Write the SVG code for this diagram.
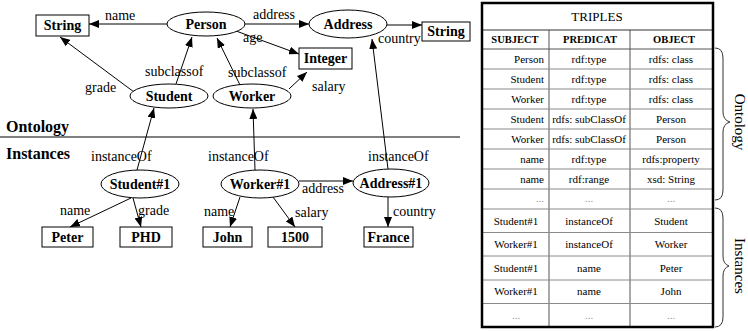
<svg xmlns="http://www.w3.org/2000/svg" width="748" height="331" viewBox="0 0 748 331" font-family="'Liberation Serif','DejaVu Serif',serif">
<style>
text{font-family:'Liberation Serif','DejaVu Serif',serif;fill:#000}
.n{font-size:14px;font-weight:bold;text-anchor:middle}
.l{font-size:14px}
.sec{font-size:16px;font-weight:bold}
.sh{fill:#fff;stroke:#000;stroke-width:1}
.e{stroke:#000;stroke-width:1;fill:none;marker-end:url(#ah)}
.tc{font-size:11px;text-anchor:middle}
.tr{font-size:11px;text-anchor:end}
.th{font-size:10.5px;font-weight:bold;text-anchor:middle}
.dot{fill:#999}
.rl{stroke:#8a8a8a;stroke-width:1}
.cl{stroke:#555;stroke-width:1}
.br{fill:none;stroke:#333;stroke-width:1}
.bt{font-size:15px;text-anchor:middle}
</style>
<defs>
<marker id="ah" markerUnits="userSpaceOnUse" markerWidth="10" markerHeight="8" refX="10" refY="4" orient="auto">
<path d="M0,0 L10,4 L0,8 z" fill="#000"/>
</marker>
</defs>
<rect width="748" height="331" fill="#fff"/>

<g id="connectors">
<line class="e" x1="167" y1="24" x2="89" y2="24"/>
<line class="e" x1="245" y1="24" x2="309" y2="24"/>
<line class="e" x1="236" y1="31" x2="299" y2="54"/>
<line class="e" x1="387" y1="25" x2="422" y2="25"/>
<line class="e" x1="134" y1="92" x2="60" y2="37"/>
<line class="e" x1="176" y1="84" x2="192" y2="37"/>
<line class="e" x1="240" y1="85" x2="217" y2="38"/>
<line class="e" x1="289" y1="89" x2="307" y2="72"/>
<line class="e" x1="388" y1="169" x2="372" y2="39"/>
<line class="e" x1="137" y1="170" x2="154" y2="108"/>
<line class="e" x1="255" y1="170" x2="253" y2="109"/>
<line class="e" x1="299" y1="181" x2="353" y2="181"/>
<line class="e" x1="131" y1="198" x2="70" y2="227"/>
<line class="e" x1="133" y1="198" x2="141" y2="227"/>
<line class="e" x1="240" y1="197" x2="230" y2="227"/>
<line class="e" x1="273" y1="197" x2="295" y2="227"/>
<line class="e" x1="388" y1="197" x2="388" y2="227"/>
<text class="l" x="105" y="20">name</text>
<text class="l" x="253" y="19">address</text>
<text class="l" x="243" y="42">age</text>
<text class="l" x="378" y="43">country</text>
<text class="l" x="85" y="92">grade</text>
<text class="l" x="145" y="76">subclassof</text>
<text class="l" x="228" y="77">subclassof</text>
<text class="l" x="312" y="91">salary</text>
<text class="l" x="91" y="161">instanceOf</text>
<text class="l" x="208" y="161">instanceOf</text>
<text class="l" x="368" y="161">instanceOf</text>
<text class="l" x="302" y="193">address</text>
<text class="l" x="60" y="215">name</text>
<text class="l" x="138" y="215">grade</text>
<text class="l" x="204" y="216">name</text>
<text class="l" x="295" y="217">salary</text>
<text class="l" x="393" y="216">country</text>
</g>

<g id="String"><rect class="sh" x="36" y="15" width="53" height="21"/><text class="n" x="62.5" y="30">String</text></g>
<g id="Person"><ellipse class="sh" cx="206" cy="24" rx="39" ry="12"/><text class="n" x="206" y="29">Person</text></g>
<g id="Address"><ellipse class="sh" cx="348" cy="24" rx="39" ry="14"/><text class="n" x="348" y="29">Address</text></g>
<g id="String2"><rect class="sh" x="422" y="22" width="48" height="19"/><text class="n" x="446" y="36">String</text></g>
<g id="Integer"><rect class="sh" x="299" y="48" width="53" height="21"/><text class="n" x="325.5" y="63">Integer</text></g>
<g id="Student"><ellipse class="sh" cx="169" cy="96" rx="39" ry="12"/><text class="n" x="169" y="101">Student</text></g>
<g id="Worker"><ellipse class="sh" cx="252" cy="96" rx="39" ry="12"/><text class="n" x="252" y="101">Worker</text></g>
<g id="Student1"><ellipse class="sh" cx="140" cy="184" rx="39" ry="14"/><text class="n" x="140" y="189">Student#1</text></g>
<g id="Worker1"><ellipse class="sh" cx="260" cy="184" rx="39" ry="14"/><text class="n" x="260" y="189">Worker#1</text></g>
<g id="Address1"><ellipse class="sh" cx="391" cy="183" rx="38" ry="14"/><text class="n" x="391" y="188">Address#1</text></g>
<g id="Peter"><rect class="sh" x="42" y="227" width="51" height="20"/><text class="n" x="67.5" y="242">Peter</text></g>
<g id="PHD"><rect class="sh" x="120" y="227" width="52" height="20"/><text class="n" x="146" y="242">PHD</text></g>
<g id="John"><rect class="sh" x="203" y="227" width="49" height="20"/><text class="n" x="227.5" y="242">John</text></g>
<g id="n1500"><rect class="sh" x="268" y="227" width="54" height="20"/><text class="n" x="295" y="242">1500</text></g>
<g id="France"><rect class="sh" x="364" y="227" width="49" height="20"/><text class="n" x="388.5" y="242">France</text></g>

<g id="sections">
<text class="sec" x="6" y="132">Ontology</text>
<line x1="0" y1="137" x2="460" y2="137" stroke="#000" stroke-width="1"/>
<text class="sec" x="6" y="159">Instances</text>
</g>

<g id="table">
<line class="cl" x1="549" y1="30" x2="549" y2="327"/>
<line class="cl" x1="630" y1="30" x2="630" y2="327"/>
<line x1="482" y1="30" x2="713" y2="30" stroke="#333"/>
<line x1="482" y1="49" x2="713" y2="49" stroke="#555"/>
<line class="rl" x1="482" y1="69" x2="713" y2="69"/>
<line class="rl" x1="482" y1="89" x2="713" y2="89"/>
<line class="rl" x1="482" y1="109" x2="713" y2="109"/>
<line class="rl" x1="482" y1="129" x2="713" y2="129"/>
<line class="rl" x1="482" y1="149" x2="713" y2="149"/>
<line class="rl" x1="482" y1="169" x2="713" y2="169"/>
<line class="rl" x1="482" y1="189" x2="713" y2="189"/>
<line class="rl" x1="482" y1="209" x2="713" y2="209"/>
<line class="rl" x1="482" y1="232.5" x2="713" y2="232.5"/>
<line class="rl" x1="482" y1="256" x2="713" y2="256"/>
<line class="rl" x1="482" y1="280" x2="713" y2="280"/>
<line class="rl" x1="482" y1="303.5" x2="713" y2="303.5"/>
<rect x="482" y="3" width="231" height="324" fill="none" stroke="#000" stroke-width="2.5"/>
<text class="tc" x="597" y="21" style="font-size:13px">TRIPLES</text>
<text class="th" x="515" y="43">SUBJECT</text>
<text class="th" x="590" y="43">PREDICAT</text>
<text class="th" x="674" y="43">OBJECT</text>

<text class="tr" x="544" y="63">Person</text><text class="tc" x="589" y="63">rdf:type</text><text class="tc" x="671" y="63">rdfs: class</text>
<text class="tr" x="544" y="83">Student</text><text class="tc" x="589" y="83">rdf:type</text><text class="tc" x="671" y="83">rdfs: class</text>
<text class="tr" x="544" y="103">Worker</text><text class="tc" x="589" y="103">rdf:type</text><text class="tc" x="671" y="103">rdfs: class</text>
<text class="tr" x="544" y="123">Student</text><text class="tc" x="589" y="123">rdfs: subClassOf</text><text class="tc" x="671" y="123">Person</text>
<text class="tr" x="544" y="143">Worker</text><text class="tc" x="589" y="143">rdfs: subClassOf</text><text class="tc" x="671" y="143">Person</text>
<text class="tr" x="544" y="163">name</text><text class="tc" x="589" y="163">rdf:type</text><text class="tc" x="671" y="163">rdfs:property</text>
<text class="tr" x="544" y="183">name</text><text class="tc" x="589" y="183">rdf:range</text><text class="tc" x="671" y="183">xsd: String</text>
<text class="tr dot" x="544" y="202">...</text><text class="tc dot" x="589" y="202">...</text><text class="tc dot" x="671" y="202">...</text>
<text class="tc" x="516" y="225">Student#1</text><text class="tc" x="589" y="225">instanceOf</text><text class="tc" x="671" y="225">Student</text>
<text class="tc" x="516" y="248">Worker#1</text><text class="tc" x="589" y="248">instanceOf</text><text class="tc" x="671" y="248">Worker</text>
<text class="tc" x="516" y="272">Student#1</text><text class="tc" x="589" y="272">name</text><text class="tc" x="671" y="272">Peter</text>
<text class="tc" x="516" y="295">Worker#1</text><text class="tc" x="589" y="295">name</text><text class="tc" x="671" y="295">John</text>
<text class="tc dot" x="516" y="319">...</text><text class="tc dot" x="589" y="319">...</text><text class="tc dot" x="671" y="319">...</text>
</g>

<g id="brackets">
<path class="br" d="M715,48 Q723,48 723,58 L723,112 Q723,120 730,122 Q723,124 723,132 L723,190 Q723,200 715,200"/>
<text class="bt" transform="translate(735,122) rotate(90)">Ontology</text>
<path class="br" d="M715,208 Q723,208 723,218 L723,256 Q723,264 729,266 Q723,268 723,276 L723,317 Q723,327 715,327"/>
<text class="bt" transform="translate(735,266) rotate(90)">Instances</text>
</g>
</svg>
